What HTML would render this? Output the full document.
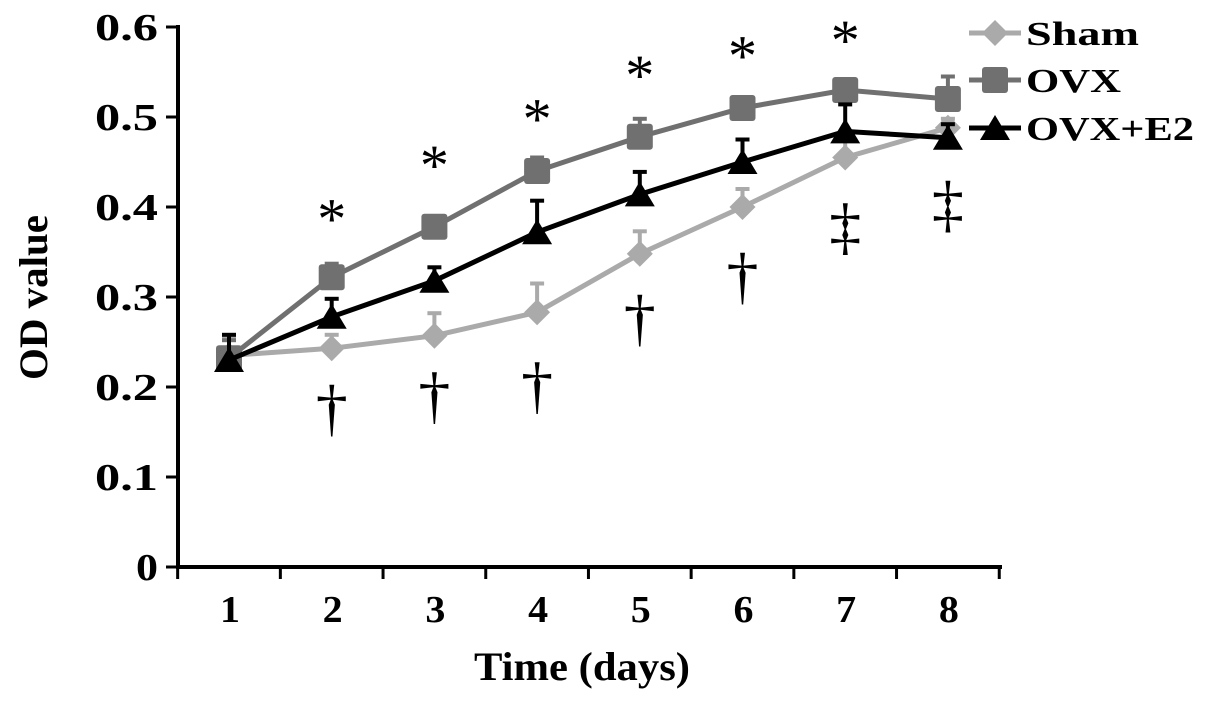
<!DOCTYPE html>
<html><head><meta charset="utf-8"><style>
body{margin:0;background:#fff}
svg{display:block;font-family:"Liberation Serif",serif;font-weight:bold}
</style></head><body>
<svg id="chart" width="1205" height="705" viewBox="0 0 1205 705" xmlns="http://www.w3.org/2000/svg"></svg>
<script>
const categories=[1,2,3,4,5,6,7,8];
const yTicks=[0,0.1,0.2,0.3,0.4,0.5,0.6];
const shamValues=[0.235,0.243,0.257,0.283,0.348,0.400,0.455,0.488];
const shamErr=[0.02,0.015,0.025,0.032,0.025,0.02,0.02,0.01];
const ovxValues=[0.232,0.322,0.378,0.440,0.478,0.510,0.530,0.520];
const ovxErr=[0.02,0.015,0.008,0.015,0.02,0.01,0.01,0.025];
const e2Values=[0.230,0.278,0.318,0.372,0.414,0.450,0.484,0.477];
const e2Err=[0.028,0.02,0.015,0.035,0.025,0.025,0.03,0.015];
const starDays=[2,3,4,5,6,7];
const starLevels=[0.393,0.452,0.504,0.552,0.574,0.591];
const daggerDays=[2,3,4,5,6];
const daggerLevels=[0.172,0.186,0.197,0.272,0.319];
const ddaggerDays=[7,8];
const ddaggerLevels=[0.377,0.402];

const svg=document.getElementById('chart');
const NS='http://www.w3.org/2000/svg';
const X=d=>229+(d-1)*102.7;
const Y=v=>567-v*900;
function el(tag,attrs,parent){const e=document.createElementNS(NS,tag);for(const k in attrs)e.setAttribute(k,attrs[k]);(parent||svg).appendChild(e);return e;}

const ax=el('g',{});


el('line',{x1:178,y1:25,x2:178,y2:569,stroke:'#000','stroke-width':4},ax);
el('line',{x1:176,y1:567,x2:1002,y2:567,stroke:'#000','stroke-width':4},ax);
yTicks.forEach(t=>{
  el('line',{x1:166,y1:Y(t),x2:178,y2:Y(t),stroke:'#000','stroke-width':3},ax);
  const s=t===0?'0':t.toFixed(1);
  const tx=el('text',{x:158,y:Y(t)+13,'text-anchor':'end','font-size':38,textLength:s.length===1?22:63,lengthAdjust:'spacingAndGlyphs'},ax);
  tx.textContent=s;
  
  
});
for(let i=0;i<=categories.length;i++){
  const x=X(1)-51.35+i*102.7;
  el('line',{x1:x,y1:567,x2:x,y2:579,stroke:'#000','stroke-width':3},ax);
}
categories.forEach(c=>{
  const tx=el('text',{x:X(c)-9,y:622,'font-size':38,textLength:20,lengthAdjust:'spacingAndGlyphs'},ax);
  tx.textContent=c;
  
  
});
const yt=el('text',{x:-82,y:0,'font-size':40,textLength:165,lengthAdjust:'spacingAndGlyphs',transform:'translate(47,298) rotate(-90)'});
yt.textContent='OD value';


const xt=el('text',{x:474,y:680,'font-size':40,textLength:216,lengthAdjust:'spacingAndGlyphs'});
xt.textContent='Time (days)';



function marker(shape,x,y,color,g){
  if(shape==='diamond')el('polygon',{points:`${x},${y-13} ${x+13},${y} ${x},${y+13} ${x-13},${y}`,fill:color},g);
  else if(shape==='square')el('rect',{x:x-13,y:y-13,width:26,height:26,rx:3,fill:color},g);
  else el('polygon',{points:`${x},${y-13} ${x+15},${y+12} ${x-15},${y+12}`,fill:color},g);
}
function series(name,vals,errs,color,shape,w){
  const g=el('g',{});
  
  
  vals.forEach((v,i)=>{
    const x=X(categories[i]),y1=Y(v),y2=Y(v+errs[i]);
    el('line',{x1:x,y1:y1,x2:x,y2:y2,stroke:color,'stroke-width':4},g);
    el('line',{x1:x-7,y1:y2,x2:x+7,y2:y2,stroke:color,'stroke-width':4},g);
  });
  el('polyline',{points:vals.map((v,i)=>X(categories[i])+','+Y(v)).join(' '),fill:'none',stroke:color,'stroke-width':w},g);
  vals.forEach((v,i)=>{marker(shape,X(categories[i]),Y(v),color,g);});
}
series('sham',shamValues,shamErr,'#aaaaaa','diamond',5);
series('ovx',ovxValues,ovxErr,'#707070','square',5);
series('ovx-e2',e2Values,e2Err,'#000000','triangle',5);

starDays.forEach((d,i)=>{
  const t=el('text',{x:X(d),y:Y(starLevels[i])+25,'text-anchor':'middle','font-size':58,'font-weight':'normal'});
  t.textContent='*';
  
  
});
daggerDays.forEach((d,i)=>{
  const t=el('text',{x:X(d),y:Y(daggerLevels[i])+17,'text-anchor':'middle','font-size':64,'font-weight':'normal'});
  t.textContent='†';
  
  
});
ddaggerDays.forEach((d,i)=>{
  const t=el('text',{x:X(d),y:Y(ddaggerLevels[i])+20,'text-anchor':'middle','font-size':64,'font-weight':'normal'});
  t.textContent='‡';
  
  
});

const lg=el('g',{});


[['Sham','#aaaaaa','diamond',33,113],['OVX','#707070','square',80,95],['OVX+E2','#000000','triangle',128,168]].forEach(([n,c,s,y,w])=>{
  const g=el('g',{},lg);
  
  
  el('line',{x1:969,y1:y,x2:1021,y2:y,stroke:c,'stroke-width':5},g);
  marker(s,995,y,c,g);
  const t=el('text',{x:1026,y:y+12,'font-size':34,textLength:w,lengthAdjust:'spacingAndGlyphs'},g);
  t.textContent=n;
});
</script>
</body></html>
